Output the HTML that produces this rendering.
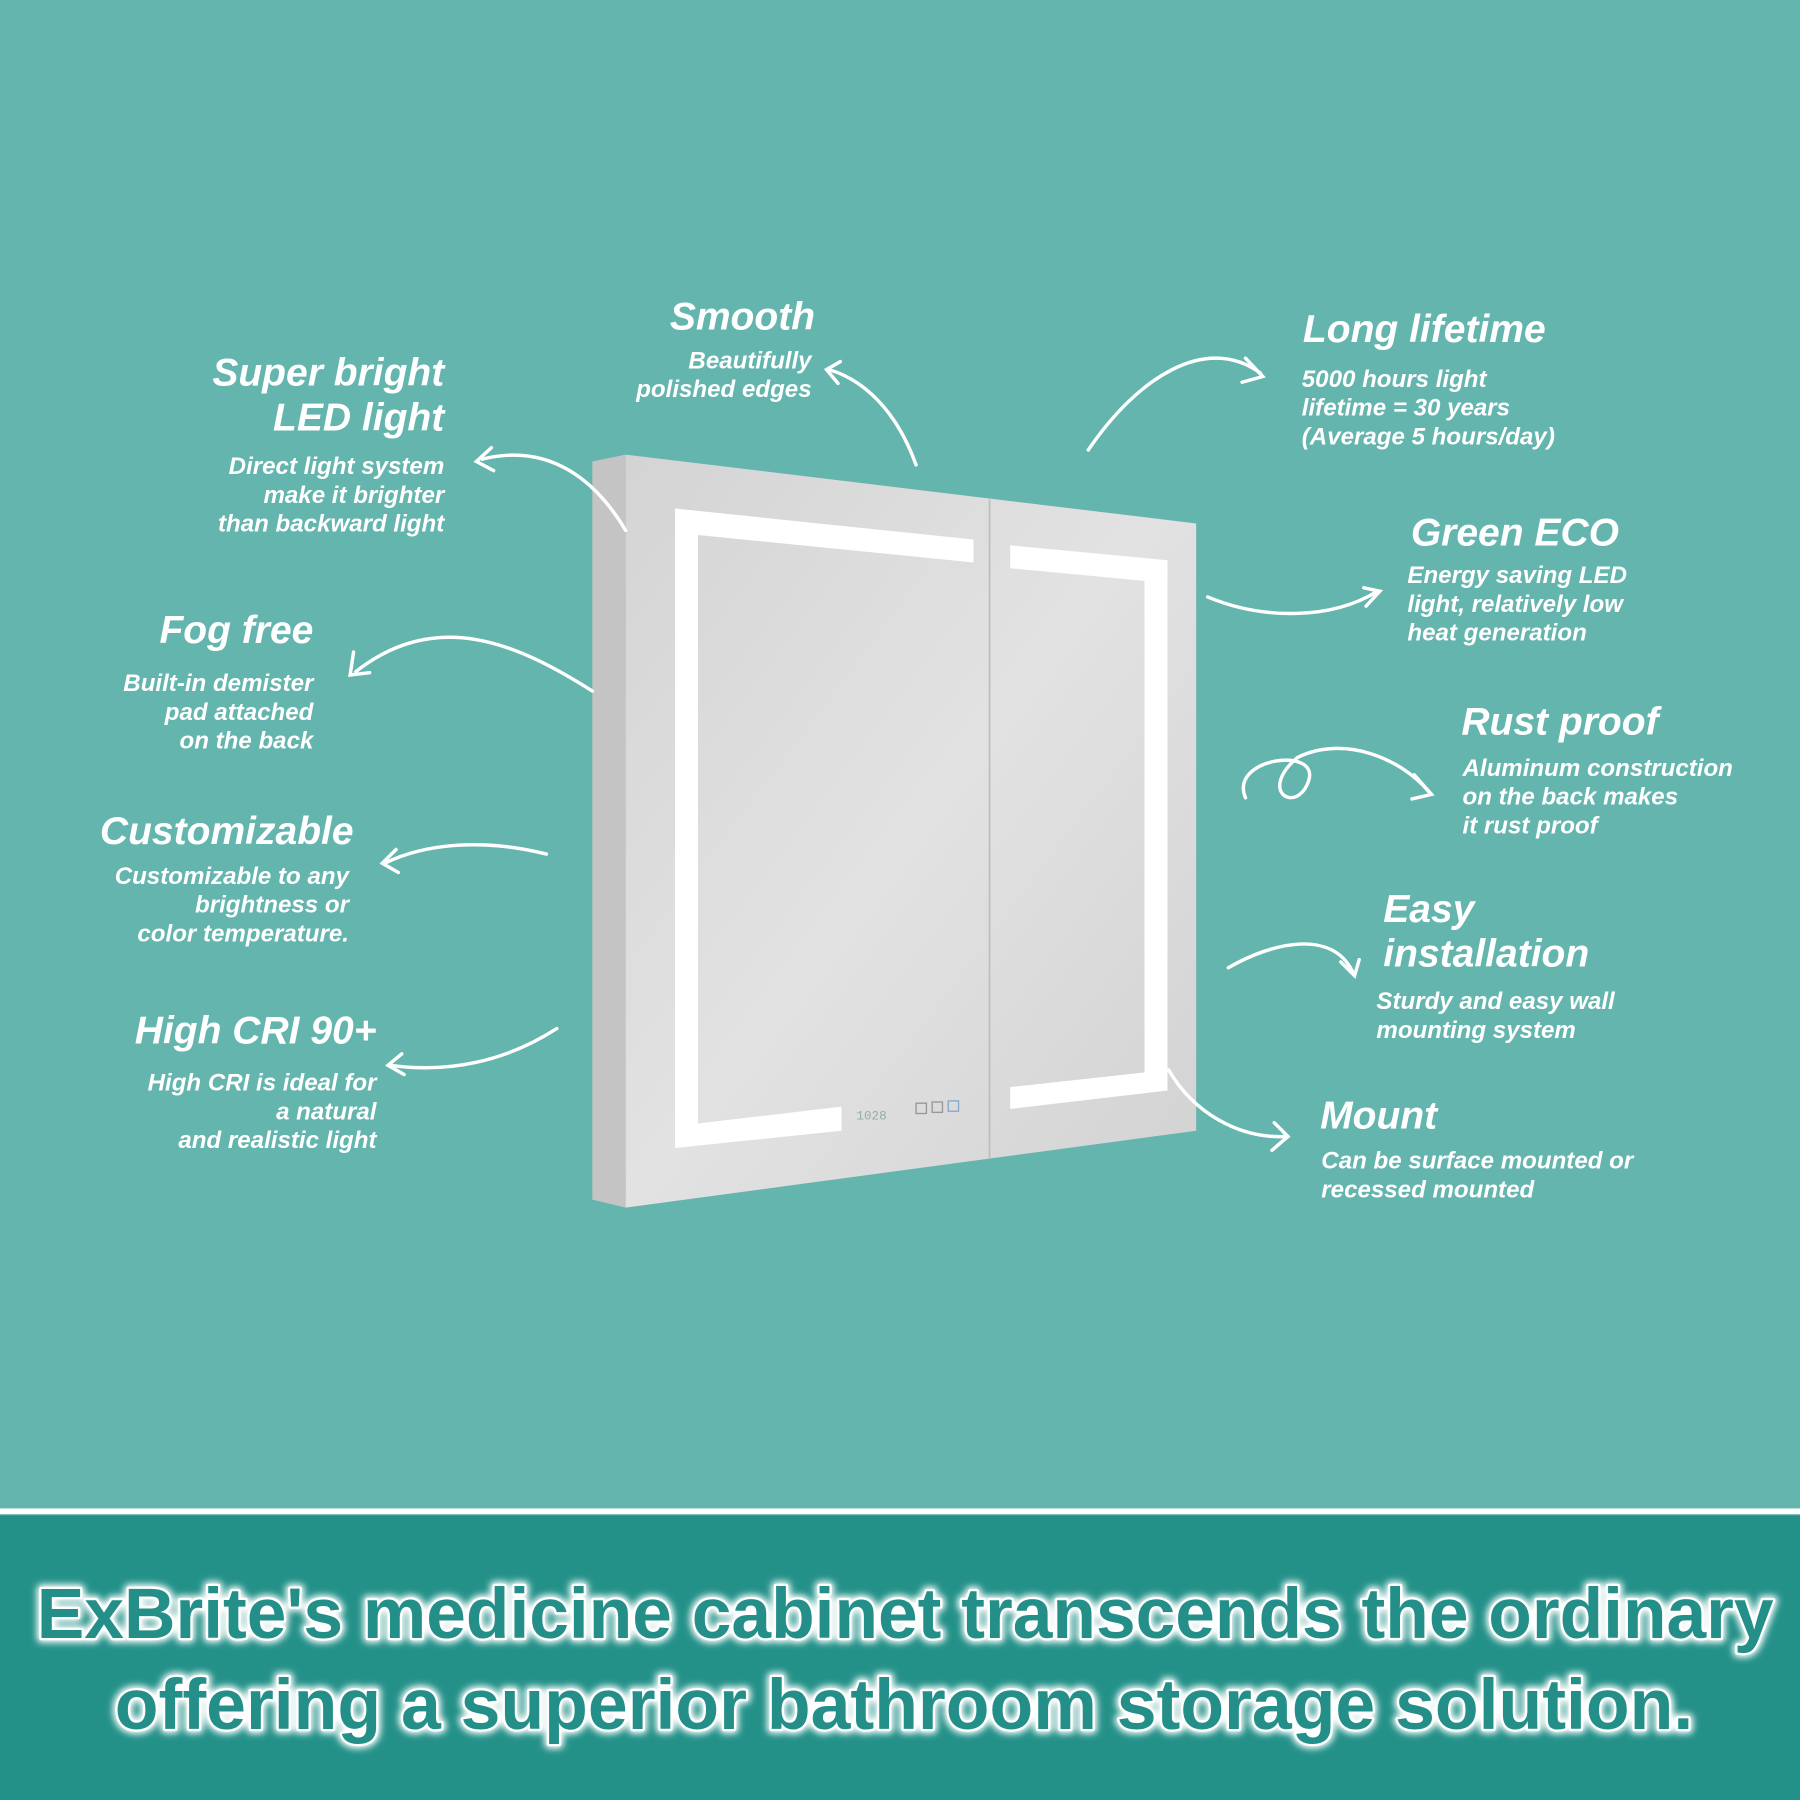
<!DOCTYPE html>
<html><head><meta charset="utf-8"><style>
html,body{margin:0;padding:0;background:#64b5ae;}
svg{display:block}
.h{font-family:"Liberation Sans",sans-serif;font-weight:bold;font-style:italic;fill:#fff;}
.t{font-size:34px}
.s{font-size:21px}
.a{fill:none;stroke:#fff;stroke-width:3;stroke-linecap:round}
</style></head><body>
<svg width="1800" height="1800" viewBox="0 0 1568 1568" xmlns="http://www.w3.org/2000/svg">
<defs>
<linearGradient id="g" x1="0" y1="0" x2="1" y2="1"><stop offset="0" stop-color="#d4d4d4"/><stop offset=".5" stop-color="#e2e2e2"/><stop offset="1" stop-color="#d2d2d2"/></linearGradient>
<filter id="glow" x="-5%" y="-30%" width="110%" height="160%"><feGaussianBlur stdDeviation="3"/></filter>
</defs>
<rect width="1568" height="1568" fill="#64b5ae"/>
<!-- cabinet -->
<polygon points="516,402 545,396 545,1052 516,1045" fill="#c4c4c4"/>
<polygon points="545,396 1042,456 1042,985 545,1052" fill="url(#g)"/>
<line x1="862" y1="435" x2="862" y2="1009" stroke="#bdbdbd" stroke-width="1.5"/>
<!-- left LED -->
<polygon points="588,443 848,470 848,490 608,466" fill="#fff"/>
<polygon points="588,443 608,446 608,981 588,1000" fill="#fff"/>
<polygon points="588,981 733,964 733,985 588,1000" fill="#fff"/>
<!-- right LED -->
<polygon points="880,475 1017,488 1017,508 880,495" fill="#fff"/>
<polygon points="997,488 1017,488 1017,950 997,950" fill="#fff"/>
<polygon points="880,947 1017,932 1017,950 880,966" fill="#fff"/>
<text x="746" y="975" font-family="Liberation Mono" font-size="11" fill="#9aa">1028</text>
<rect x="798" y="961" width="9" height="9" fill="none" stroke="#999" stroke-width="1.2"/>
<rect x="812" y="960" width="9" height="9" fill="none" stroke="#999" stroke-width="1.2"/>
<rect x="826" y="959" width="9" height="9" fill="none" stroke="#8ac" stroke-width="1.2"/>
<!-- arrows -->
<path class="a" d="M545,462 C520,420 480,385 420,400"/><path class="a" d="M428,390 L415,402 L430,410"/>
<path class="a" d="M798,405 C780,355 750,330 722,322"/><path class="a" d="M732,315 L720,322 L730,334"/>
<path class="a" d="M948,392 C990,330 1050,290 1098,325"/><path class="a" d="M1085,312 L1100,328 L1082,333"/>
<path class="a" d="M1052,520 C1100,540 1160,540 1200,515"/><path class="a" d="M1188,512 L1202,515 L1190,528"/>
<path class="a" d="M516,602 C450,560 380,530 310,585"/><path class="a" d="M308,568 L305,588 L322,586"/>
<path class="a" d="M1085,695 C1070,660 1150,650 1140,680 C1130,710 1095,690 1130,660 C1170,640 1220,660 1245,690"/><path class="a" d="M1232,675 L1247,692 L1230,696"/>
<path class="a" d="M476,744 C420,730 370,735 335,752"/><path class="a" d="M345,740 L333,752 L347,760"/>
<path class="a" d="M1070,843 C1110,820 1160,810 1178,846"/><path class="a" d="M1168,838 L1180,850 L1184,836"/>
<path class="a" d="M485,896 C440,925 390,935 340,928"/><path class="a" d="M350,918 L338,928 L352,936"/>
<path class="a" d="M1018,932 C1040,970 1080,992 1120,990"/><path class="a" d="M1110,978 L1122,990 L1108,1002"/>
<!-- labels -->
<g class="h">
<text class="t" x="387" y="336" text-anchor="end">Super bright</text>
<text class="t" x="387" y="375" text-anchor="end">LED light</text>
<text class="s" x="387" y="413" text-anchor="end">Direct light system</text>
<text class="s" x="387" y="438" text-anchor="end">make it brighter</text>
<text class="s" x="387" y="463" text-anchor="end">than backward light</text>
<text class="t" x="710" y="287" text-anchor="end">Smooth</text>
<text class="s" x="707" y="321" text-anchor="end">Beautifully</text>
<text class="s" x="707" y="346" text-anchor="end">polished edges</text>
<text class="t" x="1135" y="298">Long lifetime</text>
<text class="s" x="1134" y="337">5000 hours light</text>
<text class="s" x="1134" y="362">lifetime = 30 years</text>
<text class="s" x="1134" y="387">(Average 5 hours/day)</text>
<text class="t" x="1229" y="475">Green ECO</text>
<text class="s" x="1226" y="508">Energy saving LED</text>
<text class="s" x="1226" y="533">light, relatively low</text>
<text class="s" x="1226" y="558">heat generation</text>
<text class="t" x="273" y="560" text-anchor="end">Fog free</text>
<text class="s" x="273" y="602" text-anchor="end">Built-in demister</text>
<text class="s" x="273" y="627" text-anchor="end">pad attached</text>
<text class="s" x="273" y="652" text-anchor="end">on the back</text>
<text class="t" x="1273" y="640">Rust proof</text>
<text class="s" x="1274" y="676">Aluminum construction</text>
<text class="s" x="1274" y="701">on the back makes</text>
<text class="s" x="1274" y="726">it rust proof</text>
<text class="t" x="308" y="735" text-anchor="end">Customizable</text>
<text class="s" x="304" y="770" text-anchor="end">Customizable to any</text>
<text class="s" x="304" y="795" text-anchor="end">brightness or</text>
<text class="s" x="304" y="820" text-anchor="end">color temperature.</text>
<text class="t" x="1205" y="803">Easy</text>
<text class="t" x="1205" y="842">installation</text>
<text class="s" x="1199" y="879">Sturdy and easy wall</text>
<text class="s" x="1199" y="904">mounting system</text>
<text class="t" x="328" y="909" text-anchor="end">High CRI 90+</text>
<text class="s" x="328" y="950" text-anchor="end">High CRI is ideal for</text>
<text class="s" x="328" y="975" text-anchor="end">a natural</text>
<text class="s" x="328" y="1000" text-anchor="end">and realistic light</text>
<text class="t" x="1150" y="983">Mount</text>
<text class="s" x="1151" y="1018">Can be surface mounted or</text>
<text class="s" x="1151" y="1043">recessed mounted</text>
</g>
<!-- bottom band -->
<rect x="0" y="1314" width="1568" height="5" fill="#fff"/>
<rect x="0" y="1320" width="1568" height="248" fill="#249189"/>
<g font-family="'Liberation Sans Narrow','Liberation Sans',sans-serif" font-weight="bold" font-size="62">
<g filter="url(#glow)" stroke="#fff" stroke-width="8" fill="#fff" stroke-linejoin="round">
<text x="32" y="1427" textLength="1513" lengthAdjust="spacingAndGlyphs">ExBrite's medicine cabinet transcends the ordinary</text>
<text x="100" y="1506" textLength="1375" lengthAdjust="spacingAndGlyphs">offering a superior bathroom storage solution.</text>
</g>
<g stroke="#fff" stroke-width="4" fill="#248f88" paint-order="stroke" stroke-linejoin="round">
<text x="32" y="1427" textLength="1513" lengthAdjust="spacingAndGlyphs">ExBrite's medicine cabinet transcends the ordinary</text>
<text x="100" y="1506" textLength="1375" lengthAdjust="spacingAndGlyphs">offering a superior bathroom storage solution.</text>
</g>
</g>
</svg>
</body></html>
